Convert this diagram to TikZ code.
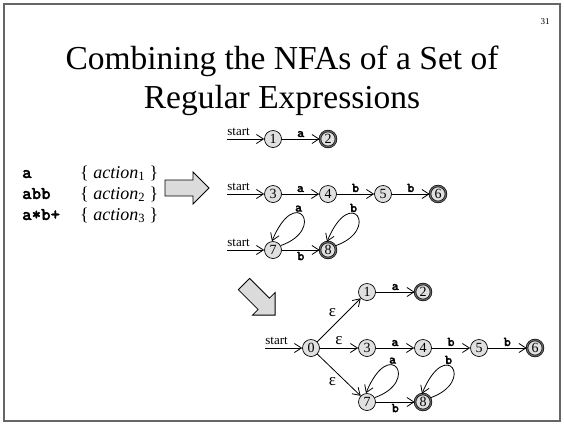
\documentclass[tikz,border=0pt]{standalone}
\usepackage{fontspec}
\setmainfont{Liberation Serif}
\newfontfamily\codefont{lmmonolt10-bold.otf}[FakeBold=1.6]
\usetikzlibrary{arrows.meta}

\begin{document}
\begin{tikzpicture}[x=1pt,y=-1pt,
  state/.style={circle, draw, line width=0.7pt, fill=black!12,
    minimum size=17pt, inner sep=0pt, font=\fontsize{14}{14}\selectfont},
  accept/.style={state, double=black!60, double distance=1.1pt,
    line width=0.65pt, minimum size=16pt},
  trans/.style={-{Straight Barb[length=7pt,width=9pt]}, line width=0.8pt},
  sym/.style={font=\codefont\fontsize{13.5}{13.5}\selectfont, inner sep=1.5pt},
  looplbl/.style={sym, pos=0.6, anchor=south, inner sep=1pt},
  startlbl/.style={font=\fontsize{13}{13}\selectfont, inner sep=0pt,
    anchor=south west, yshift=3pt},
  eps/.style={font=\fontsize{17}{17}\selectfont, inner sep=2.5pt},
  blockarrow/.style={draw, line width=0.8pt, fill=black!14, line join=miter},
  regex/.style={anchor=base west, inner sep=0pt,
    font=\codefont\fontsize{18}{18}\selectfont},
  actiontxt/.style={anchor=base west, inner sep=0pt, font=\fontsize{18}{18}\selectfont},
  titletxt/.style={anchor=base, font=\fontsize{33.5}{33.5}\selectfont},
]
\useasboundingbox (0,0) rectangle (564,424);
\draw[black!60, line width=1.5pt] (4,4) rectangle (560,421);

% slide number and title
\node[font=\fontsize{9}{9}\selectfont] (pg) at (545,22) {31};
\node[titletxt] (title1) at (282,69) {Combining the NFAs of a Set of};
\node[titletxt] (title2) at (282,108) {Regular Expressions};

% the patterns and their actions
\node[regex] (re1) at (22,178) {a};
\node[regex] (re2) at (22,199) {abb};
\node[regex] (re3) at (22,220) {a*b+};
\node[actiontxt] (ac1) at (80,178) {\{ \textit{action}\textsubscript{1} \}};
\node[actiontxt] (ac2) at (80,199) {\{ \textit{action}\textsubscript{2} \}};
\node[actiontxt] (ac3) at (80,220) {\{ \textit{action}\textsubscript{3} \}};

% hollow block arrows
\draw[blockarrow, shift={(165,188)}]
  (0,-8) -- (28,-8) -- (28,-16) -- (44,0) -- (28,16) -- (28,8) -- (0,8) -- cycle;
\draw[blockarrow, shift={(244,284)}, rotate=-45]
  (0,-8) -- (28,-8) -- (28,-16) -- (44,0) -- (28,16) -- (28,8) -- (0,8) -- cycle;

% NFA for a
\node[state] (a1) at (273,139) {1};
\node[accept] (a2) at (328,139) {2};
\coordinate (sa) at (227,139);
\draw[trans] (sa) -- node[startlbl, pos=0] (lsa) {start} (a1);
\draw[trans] (a1) -- node[sym, above] (la12) {a} (a2);

% NFA for abb
\node[state] (b3) at (273,194) {3};
\node[state] (b4) at (328,194) {4};
\node[state] (b5) at (383,194) {5};
\node[accept] (b6) at (438,194) {6};
\coordinate (sb) at (227,194);
\draw[trans] (sb) -- node[startlbl, pos=0] (lsb) {start} (b3);
\draw[trans] (b3) -- node[sym, above] (lb34) {a} (b4);
\draw[trans] (b4) -- node[sym, above] (lb45) {b} (b5);
\draw[trans] (b5) -- node[sym, above] (lb56) {b} (b6);

% NFA for a*b+
\node[state] (c7) at (273,250) {7};
\node[accept] (c8) at (328,250) {8};
\coordinate (sc) at (227,250);
\draw[trans] (sc) -- node[startlbl, pos=0] (lsc) {start} (c7);
\draw[trans] (c7) -- node[sym, below] (lc78) {b} (c8);
\draw[trans] (c7.30) .. controls +(46,-16) and +(24,-58) .. (c7.97)
  node[looplbl] (lc77) {a};
\draw[trans] (c8.30) .. controls +(46,-16) and +(24,-58) .. (c8.97)
  node[looplbl] (lc88) {b};

% combined NFA
\node[state] (d0) at (311,348) {0};
\node[state] (d1) at (367,292) {1};
\node[accept] (d2) at (423,292) {2};
\node[state] (d3) at (367,348) {3};
\node[state] (d4) at (423,348) {4};
\node[state] (d5) at (479,348) {5};
\node[accept] (d6) at (535,348) {6};
\node[state] (d7) at (367,402) {7};
\node[accept] (d8) at (423,402) {8};
\coordinate (sd) at (265,348);
\draw[trans] (sd) -- node[startlbl, pos=0] (lsd) {start} (d0);
\draw[trans] (d0) -- node[eps, midway, anchor=south east] (le01) {ε} (d1);
\draw[trans] (d0) -- node[eps, midway, anchor=south] (le03) {ε} (d3);
\draw[trans] (d0) -- node[eps, midway, anchor=north east] (le07) {ε} (d7);
\draw[trans] (d1) -- node[sym, above] (ld12) {a} (d2);
\draw[trans] (d3) -- node[sym, above] (ld34) {a} (d4);
\draw[trans] (d4) -- node[sym, above] (ld45) {b} (d5);
\draw[trans] (d5) -- node[sym, above] (ld56) {b} (d6);
\draw[trans] (d7) -- node[sym, below] (ld78) {b} (d8);
\draw[trans] (d7.30) .. controls +(46,-16) and +(24,-58) .. (d7.97)
  node[looplbl] (ld77) {a};
\draw[trans] (d8.30) .. controls +(46,-16) and +(24,-58) .. (d8.97)
  node[looplbl] (ld88) {b};
\end{tikzpicture}
\end{document}
